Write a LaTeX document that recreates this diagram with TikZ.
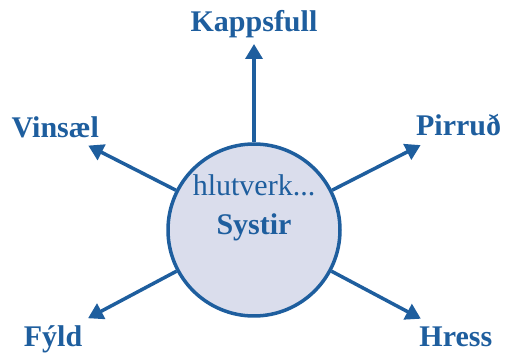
\documentclass[tikz,border=0pt]{standalone}
\usepackage{fontspec}
\setmainfont{Liberation Serif}
\usetikzlibrary{arrows.meta}
\definecolor{blaar}{HTML}{1E5E9E}
\definecolor{ljos}{HTML}{DADDEC}

\begin{document}
\begin{tikzpicture}[x=1pt, y=1pt,
    rolle/.style = {circle, draw=blaar, fill=ljos, line width=3.5pt,
                    minimum size=172pt, inner sep=0pt},
    ord/.style   = {text=blaar, font=\fontsize{30}{36}\selectfont\bfseries,
                    anchor=base, inner sep=0pt},
    pil/.style   = {draw=blaar, line width=3.5pt,
                    -{Triangle[length=15pt, width=17pt]}}]
     \useasboundingbox (0,0) rectangle (506,356);

     \node[rolle] (sys) at (254,126) {};
     \node[text=blaar, font=\fontsize{30}{36}\selectfont, anchor=base,
           inner sep=0pt] (hlut) at (254,160) {hlutverk...};
     \node[ord] (nafn) at (254,121) {Systir};

     % endar orvanna
     \foreach \a/\r/\n in {90/186/kapp, 153/186/vins, 27/187/pirr,
                           208/188/fyld, 332/189/hress}
       \path (sys.center) ++(\a:\r) coordinate (\n);
     \foreach \n in {kapp, vins, pirr, fyld, hress}
       \draw[pil] (sys) -- (\n);

     \node[ord] (kappL)  at ([yshift=12pt]kapp)              {Kappsfull};
     \node[ord] (vinsL)  at ([xshift=-33pt, yshift=8pt]vins)  {Vinsæl};
     \node[ord] (pirrL)  at ([xshift=38pt, yshift=10pt]pirr)  {Pirruð};
     \node[ord] (fyldL)  at ([xshift=-35pt, yshift=-28pt]fyld) {Fýld};
     \node[ord] (hressL) at ([xshift=35pt, yshift=-28pt]hress) {Hress};
\end{tikzpicture}
\end{document}
